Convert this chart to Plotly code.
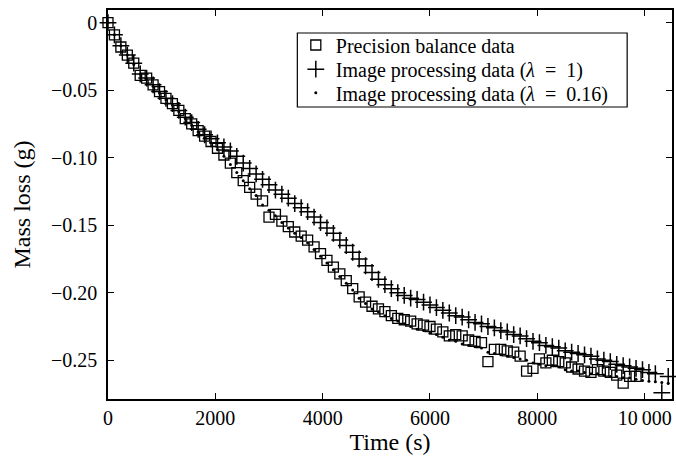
import plotly.graph_objects as go

# ---- data ----
time_s = [0, 120, 240, 360, 480, 600, 720, 840, 960, 1080,
          1200, 1320, 1440, 1560, 1680, 1800, 1920, 2040, 2160, 2280,
          2400, 2520, 2640, 2760, 2880, 3000, 3120, 3240, 3360, 3480,
          3600, 3720, 3840, 3960, 4080, 4200, 4320, 4440, 4560, 4680,
          4800, 4920, 5040, 5160, 5280, 5400, 5520, 5640, 5760, 5880,
          6000, 6120, 6240, 6360, 6480, 6600, 6720, 6840, 6960, 7080,
          7200, 7320, 7440, 7560, 7680, 7800, 7920, 8040, 8160, 8280,
          8400, 8520, 8640, 8760, 8880, 9000, 9120, 9240, 9360, 9480,
          9600, 9720, 9840, 9960, 10080, 10200, 10320, 10440]

balance_mass = [0.000, -0.009, -0.018, -0.024, -0.030, -0.039, -0.041, -0.046, -0.051, -0.056,
                -0.060, -0.065, -0.071, -0.075, -0.080, -0.084, -0.088, -0.093, -0.098, -0.104,
                -0.111, -0.117, -0.122, -0.127, -0.132, -0.144, -0.142, -0.147, -0.151, -0.155,
                -0.158, -0.161, -0.166, -0.171, -0.176, -0.181, -0.186, -0.191, -0.197, -0.203,
                -0.207, -0.210, -0.212, -0.214, -0.217, -0.219, -0.220, -0.221, -0.223, -0.224,
                -0.225, -0.227, -0.229, -0.232, -0.231, -0.232, -0.235, -0.236, -0.237, -0.251,
                -0.242, -0.242, -0.243, -0.244, -0.247, -0.258, -0.256, -0.249, -0.252, -0.250,
                -0.251, -0.252, -0.255, -0.2565, -0.258, -0.259, -0.257, -0.258, -0.259, -0.261,
                -0.267, -0.262, -0.262]

image_mass_l1 = [0.000, -0.009, -0.017, -0.024, -0.030, -0.038, -0.041, -0.046, -0.051, -0.056,
                 -0.060, -0.065, -0.070, -0.074, -0.079, -0.083, -0.086, -0.089, -0.092, -0.095,
                 -0.099, -0.104, -0.108, -0.112, -0.116, -0.120, -0.124, -0.127, -0.130, -0.134,
                 -0.137, -0.140, -0.144, -0.148, -0.152, -0.156, -0.161, -0.165, -0.170, -0.175,
                 -0.180, -0.185, -0.190, -0.194, -0.197, -0.200, -0.202, -0.204, -0.205, -0.207,
                 -0.209, -0.211, -0.213, -0.215, -0.217, -0.218, -0.220, -0.222, -0.223, -0.225,
                 -0.226, -0.228, -0.229, -0.231, -0.232, -0.234, -0.236, -0.237, -0.239, -0.240,
                 -0.241, -0.243, -0.244, -0.245, -0.246, -0.247, -0.249, -0.250, -0.251, -0.253,
                 -0.254, -0.255, -0.256, -0.257, -0.259, -0.260, -0.274, -0.262]

image_mass_l016 = [0.000, -0.009, -0.017, -0.024, -0.031, -0.038, -0.042, -0.047, -0.052, -0.057,
                   -0.061, -0.066, -0.071, -0.076, -0.081, -0.085, -0.089, -0.094, -0.099, -0.105,
                   -0.111, -0.117, -0.123, -0.128, -0.135, -0.139, -0.143, -0.148, -0.152, -0.156,
                   -0.159, -0.163, -0.168, -0.173, -0.178, -0.183, -0.188, -0.193, -0.198, -0.204,
                   -0.208, -0.212, -0.214, -0.217, -0.219, -0.221, -0.223, -0.225, -0.227, -0.228,
                   -0.230, -0.231, -0.233, -0.235, -0.236, -0.238, -0.239, -0.240, -0.241, -0.244,
                   -0.245, -0.246, -0.247, -0.248, -0.249, -0.250, -0.252, -0.253, -0.254, -0.254,
                   -0.255, -0.257, -0.258, -0.258, -0.259, -0.260, -0.260, -0.261, -0.262, -0.262,
                   -0.263, -0.263, -0.264, -0.265, -0.2655, -0.266, -0.2665, -0.267]

series_names = ["Precision balance data",
                "Image processing data (<i>\u03bb</i>\u2002=\u20021)",
                "Image processing data (<i>\u03bb</i>\u2002=\u20020.16)"]

x_tick_vals = [0, 2000, 4000, 6000, 8000, 10000]
x_tick_text = ["0", "2000", "4000", "6000", "8000", "10\u2009000"]
y_tick_vals = [0, -0.05, -0.10, -0.15, -0.20, -0.25]
y_tick_text = ["0", "\u22120.05", "\u22120.10", "\u22120.15", "\u22120.20", "\u22120.25"]

FONT = "Liberation Serif, Times New Roman, serif"

fig = go.Figure()
fig.add_trace(go.Scatter(
    x=time_s[:len(balance_mass)], y=balance_mass, mode="markers",
    name=series_names[0], legend="legend",
    marker=dict(symbol="square-open", size=10, color="black", line=dict(width=1.3, color="black")),
    cliponaxis=False,
))
fig.add_trace(go.Scatter(
    x=time_s[:len(image_mass_l1)], y=image_mass_l1, mode="markers",
    name=series_names[1], legend="legend2",
    marker=dict(symbol="cross-thin", size=12, color="black", line=dict(width=1.5, color="black")),
    cliponaxis=False,
))
fig.add_trace(go.Scatter(
    x=time_s[:len(image_mass_l016)], y=image_mass_l016, mode="markers",
    name=series_names[2], legend="legend3",
    marker=dict(symbol="circle", size=3, color="black"),
    cliponaxis=False,
))

legend_font = dict(family=FONT, size=20, color="black")
legend_common = dict(x=0.333, xanchor="left", yanchor="middle",
                     borderwidth=0, bgcolor="rgba(0,0,0,0)", font=legend_font,
                     itemsizing="trace")

fig.update_layout(
    width=676, height=464,
    margin=dict(l=108, r=2, t=10, b=65),
    paper_bgcolor="white", plot_bgcolor="white",
    font=dict(family=FONT, size=20, color="black"),
    showlegend=True,
    legend=dict(y=0.910, **legend_common),
    legend2=dict(y=0.848, **legend_common),
    legend3=dict(y=0.787, **legend_common),
    shapes=[dict(type="rect", xref="paper", yref="paper",
                 x0=0.3357, x1=0.9205, y0=0.7506, y1=0.9409,
                 line=dict(color="black", width=1.2), fillcolor="white", layer="below")],
)
fig.update_xaxes(
    range=[0, 10510], showgrid=False, zeroline=False,
    showline=True, linecolor="black", linewidth=1.5, mirror="ticks",
    ticks="inside", ticklen=6, tickwidth=1.2, tickcolor="black",
    tickvals=x_tick_vals, ticktext=x_tick_text,
    tickfont=dict(family=FONT, size=20, color="black"),
    ticklabelstandoff=0,
    title=dict(text="Time (s)", font=dict(family=FONT, size=24, color="black"), standoff=4),
)
fig.update_yaxes(
    range=[-0.2787, 0.0094], showgrid=False, zeroline=False,
    showline=True, linecolor="black", linewidth=1.5, mirror="ticks",
    ticks="inside", ticklen=6, tickwidth=1.2, tickcolor="black",
    tickvals=y_tick_vals, ticktext=y_tick_text,
    tickfont=dict(family=FONT, size=20, color="black"),
    ticklabelstandoff=5,
    title=dict(text="Mass loss (g)", font=dict(family=FONT, size=24, color="black"), standoff=14),
)

fig.write_html("out.html")
